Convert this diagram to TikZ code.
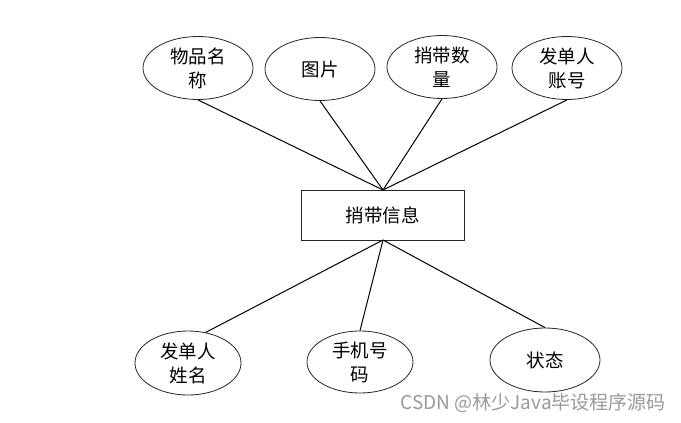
\documentclass[tikz,border=0pt]{standalone}
\usepackage{fontspec}
\newfontfamily\cjk{Noto Sans CJK SC}
\usetikzlibrary{shapes.geometric}
\begin{document}
\begin{tikzpicture}[x=1pt,y=-1pt,
  attr/.style={draw=black!85,line width=0.8pt,ellipse,minimum width=110pt,minimum height=63pt,inner sep=0pt,align=center,font=\cjk\fontsize{18.5}{24}\selectfont},
  ent/.style={draw=black!85,line width=0.8pt,rectangle,minimum width=163pt,minimum height=50pt,font=\cjk\fontsize{18.5}{24}\selectfont},
  link/.style={line width=1pt,black}]
\useasboundingbox (0,0) rectangle (681,423);
\node[attr] (a1) at (198,68) {物品名\\称};
\node[attr] (a2) at (320,69) {图片};
\node[attr] (a3) at (442,67) {捎带数\\量};
\node[attr] (a4) at (567,68) {发单人\\账号};
\node[ent] (e) at (382.5,215) {捎带信息};
\node[attr,minimum width=106pt,minimum height=64pt] (b1) at (188,363) {发单人\\姓名};
\node[attr,minimum width=106pt,minimum height=62pt] (b2) at (360,362) {手机号\\码};
\node[attr,minimum width=110pt,minimum height=64pt] (b3) at (545,360) {状态};
\coordinate (top) at (383,190);
\coordinate (bot) at (383,240);
\draw[link] (top) -- (a1.south);
\draw[link] (top) -- (a2.south);
\draw[link] (top) -- (a3.south);
\draw[link] (top) -- (a4.south);
\draw[link] (bot) -- (b1.60);
\draw[link] (bot) -- (b2.north);
\draw[link] (bot) -- (b3.north);
\node[anchor=east,text=black!40,font=\cjk\fontsize{19}{21}\selectfont,inner sep=0pt] (wm) at (666,403) {CSDN @林少Java毕设程序源码};
\end{tikzpicture}
\end{document}
